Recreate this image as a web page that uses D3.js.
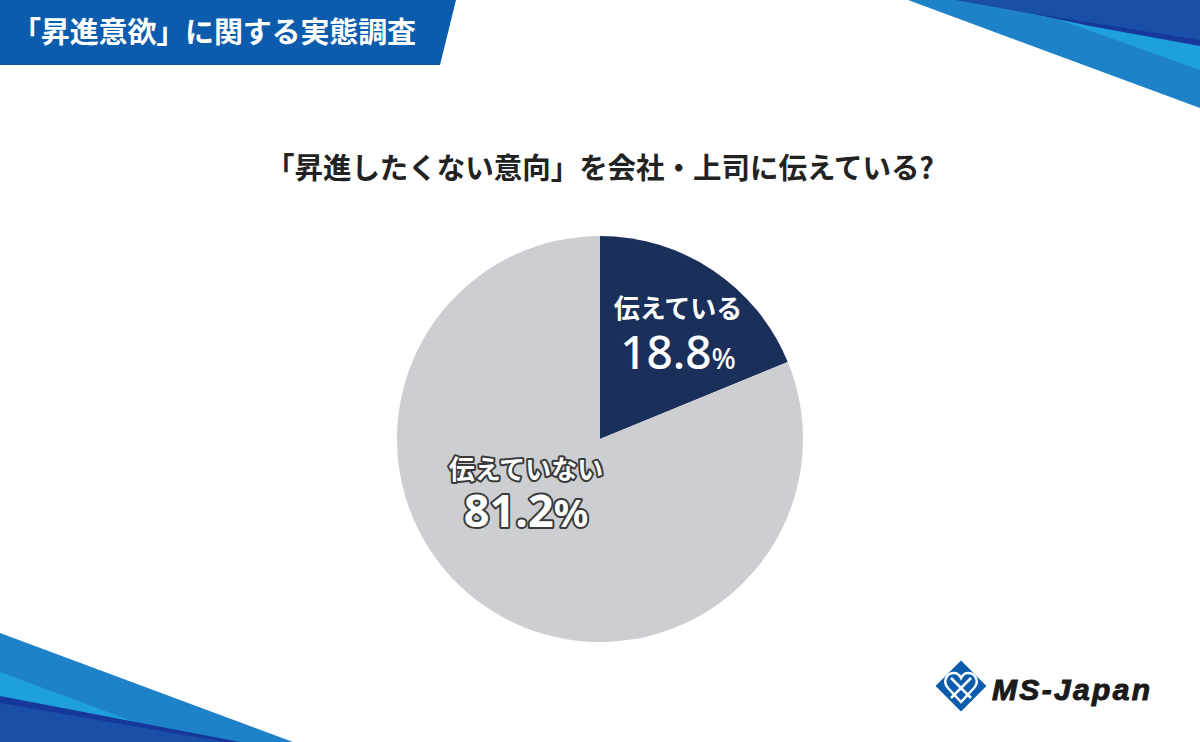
<!DOCTYPE html>
<html>
<head>
<meta charset="utf-8">
<title>昇進意欲に関する実態調査</title>
<script src="https://cdn.jsdelivr.net/npm/d3@7/dist/d3.min.js"></script>
<style>
  html, body { margin: 0; padding: 0; background: #fff; }
  svg { display: block; font-family: "Noto Sans CJK JP", "Noto Sans", sans-serif; }
</style>
</head>
<body>
<script>
  var w = 1200, h = 742;

  // data
  var categories = ["伝えている", "伝えていない"];
  var values = [18.8, 81.2];
  var colors = ["#1b2f5b", "#cdced2"];

  var svg = d3.select("body").append("svg")
      .attr("width", w)
      .attr("height", h);

  // corner decorations
  var deco = [
    {fill: "#1e82c8", pts: [[908, 0], [1200, 0], [1200, 108]]},
    {fill: "#1ea0dc", pts: [[1060, 20], [1200, 44], [1200, 70]]},
    {fill: "#1a4fa8", pts: [[955, 0], [1200, 0], [1200, 44]]},
    {fill: "#16389a", pts: [[1030, 13], [1200, 40], [1200, 46], [1090, 26]]},
    {fill: "#1e82c8", pts: [[0, 633], [293, 742], [0, 742]]},
    {fill: "#1ea0dc", pts: [[0, 672], [140, 724], [0, 698]]},
    {fill: "#1a4fa8", pts: [[0, 700], [240, 742], [0, 742]]},
    {fill: "#16389a", pts: [[0, 696], [240, 742], [225, 742], [0, 703]]}
  ];
  svg.selectAll("polygon.deco").data(deco).enter().append("polygon")
      .attr("class", "deco")
      .attr("points", function (d) { return d.pts.join(" "); })
      .attr("fill", function (d) { return d.fill; });

  // header banner
  svg.append("polygon")
      .attr("points", "0,0 456,0 440,65 0,65")
      .attr("fill", "#0b5cad");
  svg.append("text")
      .attr("x", 12).attr("y", 43)
      .attr("fill", "#fff")
      .attr("font-size", 29).attr("font-weight", 700)
      .attr("textLength", 404)
      .text("「昇進意欲」に関する実態調査");

  // title
  svg.append("text")
      .attr("x", 600).attr("y", 179)
      .attr("text-anchor", "middle")
      .attr("fill", "#222")
      .attr("font-size", 29).attr("font-weight", 700)
      .attr("textLength", 668)
      .attr("lengthAdjust", "spacingAndGlyphs")
      .text("「昇進したくない意向」を会社・上司に伝えている?");

  // pie
  var cx = 600, cy = 439, r = 203;
  var pie = d3.pie().sort(null).value(function (d) { return d; });
  var arc = d3.arc().innerRadius(0).outerRadius(r);
  var g = svg.append("g").attr("transform", "translate(" + cx + "," + cy + ")");
  g.selectAll("path").data(pie(values)).enter().append("path")
      .attr("d", arc)
      .attr("fill", function (d, i) { return colors[i]; });

  // labels
  var labels = [
    {x: 678, y: 318, py: 369, fill: "#fff", stroke: "none", fs: 26, ps: 46},
    {x: 526, y: 479, py: 527, fill: "#fff", stroke: "#3a3a3a", fs: 26, ps: 45}
  ];
  labels.forEach(function (l, i) {
    svg.append("text")
        .attr("x", l.x).attr("y", l.y)
        .attr("text-anchor", "middle")
        .attr("font-size", l.fs).attr("font-weight", 700)
        .attr("fill", l.fill)
        .attr("stroke", l.stroke).attr("stroke-width", 4)
        .attr("stroke-linejoin", "round")
        .attr("paint-order", "stroke")
        .text(categories[i]);
    var t = svg.append("text")
        .attr("x", l.x).attr("y", l.py)
        .attr("text-anchor", "middle")
        .attr("font-family", "'Noto Sans', sans-serif")
        .attr("font-size", l.ps).attr("font-weight", i === 0 ? 500 : 700)
        .attr("fill", l.fill)
        .attr("stroke", l.stroke).attr("stroke-width", 4)
        .attr("stroke-linejoin", "round")
        .attr("paint-order", "stroke");
    t.append("tspan").text(d3.format(".1f")(values[i]));
    t.append("tspan").attr("font-size", i === 0 ? l.ps * 0.62 : l.ps * 0.85).text("%");
  });

  // logo
  var logo = svg.append("g").attr("transform", "translate(961,686)");
  logo.append("rect")
      .attr("x", -18).attr("y", -18).attr("width", 36).attr("height", 36)
      .attr("transform", "rotate(45)")
      .attr("fill", "#0b5cad");
  logo.append("path")
      .attr("d", "M0,16 L-13,2 C-19,-5 -14,-13 -7,-13 C-3,-13 -1,-10 0,-8 C1,-10 3,-13 7,-13 C14,-13 19,-5 13,2 Z")
      .attr("fill", "none").attr("stroke", "#fff").attr("stroke-width", 2.5);
  logo.append("path")
      .attr("d", "M-10,-8 C-4,-2 4,6 10,12 M10,-8 C4,-2 -4,6 -10,12")
      .attr("fill", "none").attr("stroke", "#fff").attr("stroke-width", 2.5);
  svg.append("text")
      .attr("x", 992).attr("y", 700)
      .attr("font-family", "'Liberation Sans', Arial, sans-serif")
      .attr("font-size", 30).attr("font-weight", 700).attr("font-style", "italic")
      .attr("fill", "#1a1a1a")
      .attr("stroke", "#1a1a1a").attr("stroke-width", 1)
      .attr("textLength", 158)
      .text("MS-Japan");
</script>
</body>
</html>
